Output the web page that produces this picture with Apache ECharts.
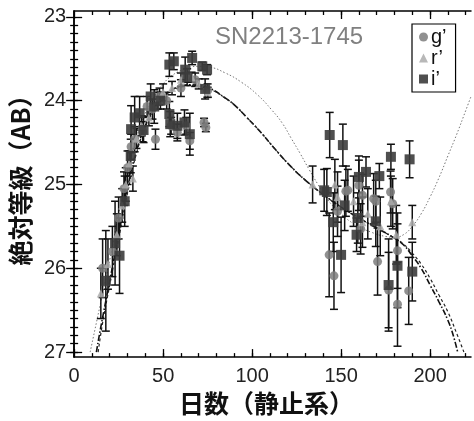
<!DOCTYPE html>
<html>
<head>
<meta charset="utf-8">
<script src="https://cdn.jsdelivr.net/npm/echarts@6/dist/echarts.min.js"></script>
<style>
html, body { margin: 0; padding: 0; background: #fff; }
#main { width: 474px; height: 421px; }
</style>
</head>
<body>
<div id="main"></div>
<script>
// g' (circles)
var gDay = [16.0, 21.5, 25.0, 28.0, 30.0, 32.0, 34.0, 38.5, 41.0, 44.0, 45.7, 48.0, 52.0, 54.5, 58.0, 60.0, 63.0, 65.0, 68.0, 73.0, 74.0, 75.0,
            143.3, 146.0, 148.0, 152.7, 153.8, 160.0, 161.0, 162.0, 168.3, 169.5, 170.5, 176.7, 177.8, 179.0, 181.7, 181.7, 188.0];
var gMag = [26.00, 25.80, 25.40, 25.05, 24.80, 24.55, 24.46, 24.37, 24.07, 24.10, 24.46, 23.95, 24.00, 24.30, 24.38, 23.85, 24.30, 24.48, 23.75, 24.26, 24.32, 23.88,
            25.84, 26.09, 25.32, 25.08, 25.07, 25.01, 25.53, 25.13, 25.17, 25.20, 25.92, 26.26, 25.09, 25.23, 25.79, 26.43, 26.27];
var gErr = [0.35, 0.3, 0.25, 0.2, 0.2, 0.15, 0.15, 0.12, 0.12, 0.12, 0.12, 0.1, 0.1, 0.1, 0.1, 0.1, 0.1, 0.1, 0.08, 0.05, 0.05, 0.08,
            0.5, 0.4, 0.3, 0.3, 0.25, 0.3, 0.3, 0.25, 0.3, 0.25, 0.4, 0.45, 0.25, 0.3, 0.45, 0.5, 0.4];

// r' (triangles)
var rDay = [15.0, 19.0, 24.0, 27.0, 29.0, 31.0, 33.0, 35.0, 38.0, 42.0, 47.0, 50.0, 55.0, 60.0, 66.0, 70.0, 75.0,
            134.0, 146.5, 148.0, 157.0, 162.0, 165.0, 172.0, 178.0, 181.0, 190.0];
var rMag = [26.30, 25.95, 25.60, 25.25, 25.00, 24.75, 24.93, 24.45, 24.30, 24.20, 24.00, 23.90, 23.85, 23.75, 23.72, 23.80, 23.90,
            25.00, 25.00, 25.15, 25.20, 25.45, 25.35, 25.50, 25.20, 25.60, 25.45];
var rErr = [0.3, 0.3, 0.25, 0.2, 0.2, 0.15, 0.15, 0.12, 0.12, 0.1, 0.1, 0.1, 0.08, 0.08, 0.06, 0.06, 0.06,
            0.22, 0.3, 0.3, 0.3, 0.3, 0.3, 0.35, 0.3, 0.35, 0.2];

// i' (squares)
var iDay = [17.8, 23.0, 25.5, 28.4, 31.8, 32.0, 34.0, 36.8, 39.0, 43.0, 45.0, 48.5, 53.5, 56.0, 53.5, 54.0, 58.0, 62.4, 63.5, 66.3, 65.0, 62.0, 72.0, 74.7, 73.6,
            140.5, 142.0, 143.6, 145.6, 150.0, 151.0, 152.0, 158.7, 159.4, 160.0, 164.0, 169.5, 171.5, 176.7, 178.0, 181.7, 188.5, 190.0];
var iMag = [26.15, 25.70, 25.85, 25.20, 24.66, 24.34, 24.20, 24.15, 24.35, 23.95, 24.07, 24.00, 23.57, 23.53, 24.16, 24.28, 24.30, 23.63, 23.72, 23.49, 24.40, 24.26, 23.59, 23.63, 23.86,
            25.07, 25.09, 24.41, 25.45, 25.84, 24.53, 25.25, 25.60, 25.40, 24.91, 24.85, 25.44, 24.90, 26.20, 24.67, 25.97, 24.70, 26.04];
var iErr = [0.6, 0.5, 0.45, 0.3, 0.2, 0.28, 0.25, 0.2, 0.15, 0.15, 0.2, 0.1, 0.14, 0.1, 0.15, 0.15, 0.15, 0.15, 0.1, 0.08, 0.25, 0.15, 0.05, 0.06, 0.12,
            0.25, 0.28, 0.27, 0.35, 0.45, 0.25, 0.3, 0.2, 0.3, 0.25, 0.18, 0.3, 0.15, 0.55, 0.15, 0.5, 0.22, 0.35];

// model curves
var dotDay = [9, 15, 20, 25, 30, 35, 40, 45, 50, 55, 60, 65, 70, 76, 85, 94, 103, 111, 117, 122, 127, 132, 137, 142, 150, 158, 167, 175, 180, 185, 190, 195, 200, 205, 210, 215, 220, 223];
var dotMag = [27.0, 26.4, 25.9, 25.35, 24.85, 24.45, 24.15, 23.95, 23.8, 23.7, 23.64, 23.6, 23.59, 23.6, 23.67, 23.78, 23.93, 24.11, 24.27, 24.45, 24.63, 24.82, 25.0, 25.17, 25.35, 25.48, 25.57, 25.62, 25.63, 25.6, 25.5, 25.35, 25.15, 24.92, 24.66, 24.4, 24.12, 23.95];

var dashDotDay = [12.5, 15, 20, 25, 30, 35, 40, 45, 50, 55, 60, 65, 70, 77, 85, 90, 97, 105, 113, 122, 130, 140, 150, 160, 170, 180, 185, 190, 195, 200, 205, 210, 213, 215.5];
var dashDotMag = [27.0, 26.7, 26.15, 25.6, 25.05, 24.6, 24.3, 24.08, 23.95, 23.87, 23.83, 23.81, 23.82, 23.86, 23.97, 24.05, 24.2, 24.38, 24.58, 24.79, 24.95, 25.12, 25.27, 25.4, 25.52, 25.64, 25.72, 25.85, 26.0, 26.2, 26.4, 26.62, 26.8, 27.0];

var dashDay = [13.5, 16, 20, 25, 30, 35, 40, 45, 50, 55, 60, 65, 70, 77, 85, 90, 97, 105, 113, 122, 130, 140, 150, 160, 170, 180, 185, 190, 195, 200, 205, 210, 215, 219];
var dashMag = [27.0, 26.65, 26.2, 25.65, 25.1, 24.63, 24.32, 24.1, 23.97, 23.88, 23.84, 23.82, 23.83, 23.87, 23.97, 24.05, 24.2, 24.38, 24.58, 24.79, 24.95, 25.12, 25.27, 25.4, 25.52, 25.64, 25.71, 25.82, 25.95, 26.12, 26.32, 26.52, 26.78, 27.0];

var xMajor = [0, 50, 100, 150, 200];
var yMajor = [23, 24, 25, 26, 27];

function pairs(xs, ys){
    var out = [];
    for (var k = 0; k < xs.length; k++) out.push([xs[k], ys[k]]);
    return out;
}
function bars(xs, ys, es){
    var out = [];
    for (var k = 0; k < xs.length; k++) out.push([xs[k], ys[k] - es[k], ys[k] + es[k]]);
    return out;
}
function steps(a, b, d){
    var out = [];
    for (var v = a; v <= b + 1e-9; v += d) out.push(Math.round(v * 100) / 100);
    return out;
}

var xMinor = steps(10, 220, 10);
var yMinor = steps(23.1, 27.0, 0.1);

var errData = bars(gDay, gMag, gErr).concat(bars(rDay, rMag, rErr)).concat(bars(iDay, iMag, iErr));

var myChart = echarts.init(document.getElementById('main'));
var tickFont = 'Liberation Sans, Arial, sans-serif';
var cjkFont = 'Noto Sans CJK JP, sans-serif';
var frame = {show: true, lineStyle: {color: '#000', width: 1.5}};

function xAx(pos, ticks, len, withLabel){
    var ax = {
        type: 'value', position: pos, min: 0, max: 223,
        axisLine: withLabel === null ? {show: false} : frame,
        splitLine: {show: false},
        axisTick: {show: true, inside: true, length: len, customValues: ticks, lineStyle: {color: '#000', width: 1.3}},
        axisLabel: {show: false}
    };
    if (withLabel) {
        ax.axisLabel = {show: true, customValues: xMajor, fontSize: 20, margin: 9, color: '#222', fontFamily: tickFont};
        ax.name = '日数（静止系）';
        ax.nameLocation = 'middle';
        ax.nameGap = 22;
        ax.nameTextStyle = {fontSize: 25, fontWeight: 'bold', color: '#111', fontFamily: cjkFont, padding: [0, 12, 0, 0]};
    }
    return ax;
}
function yAx(pos, ticks, len, withLabel){
    var ax = {
        type: 'value', position: pos, min: 22.93, max: 27.06, inverse: true,
        axisLine: withLabel === null ? {show: false} : frame,
        splitLine: {show: false},
        axisTick: {show: true, inside: true, length: len, customValues: ticks, lineStyle: {color: '#000', width: 1.3}},
        axisLabel: {show: false}
    };
    if (withLabel) {
        ax.axisLabel = {show: true, customValues: yMajor, fontSize: 20, margin: 8, color: '#222', fontFamily: tickFont};
        ax.name = '絶対等級（AB）';
        ax.nameLocation = 'middle';
        ax.nameGap = 35;
        ax.nameTextStyle = {fontSize: 25, fontWeight: 'bold', color: '#111', fontFamily: cjkFont, padding: [0, 0, 0, 20]};
    }
    return ax;
}

option = {
    animation: false,
    backgroundColor: '#fff',
    title: {
        text: 'SN2213-1745',
        left: 215, top: 25, padding: 0,
        textStyle: {fontSize: 24, fontWeight: 'normal', color: '#808080', fontFamily: tickFont}
    },
    legend: {
        orient: 'vertical',
        left: 412, top: 24,
        padding: [3, 9, 3, 7],
        itemGap: 1,
        itemWidth: 9, itemHeight: 9,
        borderColor: '#000', borderWidth: 1.2, borderRadius: 0,
        textStyle: {fontSize: 20, lineHeight: 16, color: '#111', fontFamily: tickFont, padding: [0, 0, 0, -2]},
        data: ['g’', 'r’', 'i’']
    },
    grid: {left: 71, right: 3, top: 11, bottom: 61, containLabel: false},
    xAxis: [
        xAx('bottom', xMajor, 8, true),
        xAx('bottom', xMinor, 4, null),
        xAx('top', xMajor, 8, false),
        xAx('top', xMinor, 4, null)
    ],
    yAxis: [
        yAx('left', yMajor, 8, true),
        yAx('left', yMinor, 4, null),
        yAx('right', yMajor, 8, false),
        yAx('right', yMinor, 4, null)
    ],
    series: [
        {
            name: 'dotted model', type: 'line', showSymbol: false, smooth: true, z: 2,
            lineStyle: {color: '#777', width: 1, type: [1.5, 2]},
            data: pairs(dotDay, dotMag)
        },
        {
            name: 'dash-dot model', type: 'line', showSymbol: false, smooth: true, z: 2,
            lineStyle: {color: '#111', width: 1.6, type: [6, 2, 1.5, 2]},
            data: pairs(dashDotDay, dashDotMag)
        },
        {
            name: 'dashed model', type: 'line', showSymbol: false, smooth: true, z: 2,
            lineStyle: {color: '#222', width: 1.2, type: [3, 2.5]},
            data: pairs(dashDay, dashMag)
        },
        {
            name: 'errors', type: 'custom', z: 3,
            renderItem: function(params, api){
                var x = api.value(0);
                var p1 = api.coord([x, api.value(1)]);
                var p2 = api.coord([x, api.value(2)]);
                var w = 4;
                var st = {stroke: '#111', lineWidth: 1.5};
                return {
                    type: 'group',
                    children: [
                        {type: 'line', shape: {x1: p1[0], y1: p1[1], x2: p2[0], y2: p2[1]}, style: st},
                        {type: 'line', shape: {x1: p1[0] - w, y1: p1[1], x2: p1[0] + w, y2: p1[1]}, style: st},
                        {type: 'line', shape: {x1: p2[0] - w, y1: p2[1], x2: p2[0] + w, y2: p2[1]}, style: st}
                    ]
                };
            },
            encode: {x: 0, y: [1, 2]},
            data: errData
        },
        {
            name: 'g’', type: 'scatter', symbol: 'circle', symbolSize: 9, z: 4,
            itemStyle: {color: '#7d7d7d', opacity: 0.85},
            data: pairs(gDay, gMag)
        },
        {
            name: 'r’', type: 'scatter', symbol: 'triangle', symbolSize: 8, z: 4,
            itemStyle: {color: '#ababab', opacity: 0.85},
            data: pairs(rDay, rMag)
        },
        {
            name: 'i’', type: 'scatter', symbol: 'rect', symbolSize: 10, z: 5,
            itemStyle: {color: '#3c3c3c', opacity: 0.9},
            data: pairs(iDay, iMag)
        }
    ]
};
myChart.setOption(option);
</script>
</body>
</html>
